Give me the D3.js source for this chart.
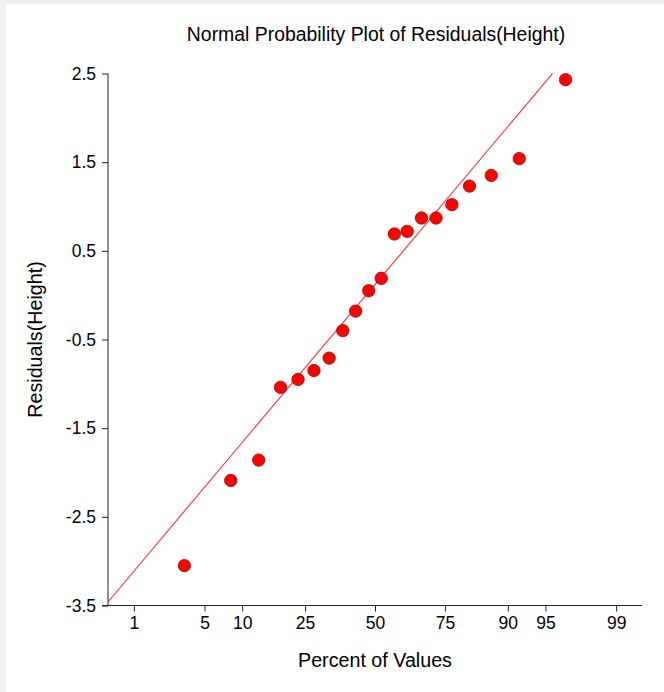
<!DOCTYPE html>
<html>
<head>
<meta charset="utf-8">
<script src="https://cdn.jsdelivr.net/npm/d3@7"></script>
<style>
  html, body { margin: 0; padding: 0; background: #f0f0f0; }
  svg { display: block; font-family: "Liberation Sans", Arial, sans-serif; }
</style>
</head>
<body>
<svg id="chart" width="664" height="692"></svg>
<script>
// values
var percents = [3.3, 8.2, 13.1, 18.1, 22.9, 27.8, 32.9, 37.8, 42.6, 47.6,
                52.4, 57.4, 62.2, 67.3, 72.2, 77.1, 81.9, 86.9, 91.8, 96.7];
var residuals = [-3.05, -2.09, -1.86, -1.04, -0.95, -0.85, -0.71, -0.40, -0.18, 0.05,
                 0.19, 0.69, 0.72, 0.87, 0.87, 1.02, 1.23, 1.35, 1.54, 2.43];
var xTicks = [1, 5, 10, 25, 50, 75, 90, 95, 99];
var yTicks = [-3.5, -2.5, -1.5, -0.5, 0.5, 1.5, 2.5];
var fitLine = { intercept: 0.12, slope: 1.39 };   // residual = intercept + slope * z

// inverse normal cdf (Acklam) so percent can go on a probability axis
function probit(p) {
  var a = [-39.69683028665376, 220.9460984245205, -275.9285104469687, 138.3577518672690, -30.66479806614716, 2.506628277459239],
      b = [-54.47609879822406, 161.5858368580409, -155.6989798598866, 66.80131188771720, -13.28068155288572],
      c = [-0.007784894002430293, -0.3223964580411365, -2.400758277161838, -2.549732539343734, 4.374664141464968, 2.938163982698783],
      d = [0.007784695709041462, 0.3224671290700398, 2.445134137142996, 3.754408661907416];
  var q, r, lo = 0.02425;
  if (p < lo) {
    q = Math.sqrt(-2 * Math.log(p));
    return (((((c[0]*q+c[1])*q+c[2])*q+c[3])*q+c[4])*q+c[5]) / ((((d[0]*q+d[1])*q+d[2])*q+d[3])*q+1);
  }
  if (p > 1 - lo) {
    q = Math.sqrt(-2 * Math.log(1 - p));
    return -(((((c[0]*q+c[1])*q+c[2])*q+c[3])*q+c[4])*q+c[5]) / ((((d[0]*q+d[1])*q+d[2])*q+d[3])*q+1);
  }
  q = p - 0.5; r = q * q;
  return (((((a[0]*r+a[1])*r+a[2])*r+a[3])*r+a[4])*r+a[5])*q / (((((b[0]*r+b[1])*r+b[2])*r+b[3])*r+b[4])*r+1);
}

function drawChart() {
  var svg = d3.select("#chart");
  svg.append("rect").attr("x", 6).attr("y", 4).attr("width", 658).attr("height", 688).attr("fill", "#fff");

  var pLeft = 108, pRight = 642, pTop = 73.5, pBottom = 605.5;

  var z = d3.scaleLinear().domain([probit(0.005), probit(0.995)]).range([pLeft, pRight]);
  var x = function(pct) { return z(probit(pct / 100)); };
  var y = d3.scaleLinear().domain([-3.5, 2.5]).range([pBottom, pTop]);

  var data = percents.map(function(p, i) { return { p: p, r: residuals[i] }; });

  // fitted line, clipped to plot area
  svg.append("clipPath").attr("id", "plotclip")
    .append("rect").attr("x", pLeft).attr("y", pTop).attr("width", pRight - pLeft).attr("height", pBottom - pTop);

  var zs = z.domain();
  svg.append("line")
      .attr("clip-path", "url(#plotclip)")
      .attr("x1", z(zs[0])).attr("y1", y(fitLine.intercept + fitLine.slope * zs[0]))
      .attr("x2", z(zs[1])).attr("y2", y(fitLine.intercept + fitLine.slope * zs[1]))
      .attr("stroke", "#ff3030").attr("stroke-width", 1.1);

  // axes
  var yAxis = svg.append("g")
      .attr("transform", "translate(" + pLeft + ",0)")
      .call(d3.axisLeft(y).tickValues(yTicks).tickFormat(function(d) { return d.toFixed(1); }).tickSize(6).tickPadding(6));
  yAxis.select(".domain").attr("d", "M0," + pTop + "V" + pBottom);

  var xAxis = svg.append("g")
      .attr("transform", "translate(0," + pBottom + ")")
      .call(d3.axisBottom(z).tickValues(xTicks.map(function(t) { return probit(t / 100); }))
        .tickFormat(function(d, i) { return xTicks[i]; }).tickSize(6).tickPadding(5));
  xAxis.select(".domain").attr("d", "M" + (pLeft - 6) + ",0H" + pRight);

  svg.selectAll(".tick text").attr("font-size", 17.5).attr("font-family", "Liberation Sans, Arial, sans-serif").attr("fill", "#000");
  svg.selectAll(".domain, .tick line").attr("stroke", "#222");

  // points
  svg.append("g").selectAll("circle")
    .data(data)
    .enter().append("circle")
      .attr("cx", function(d) { return x(d.p); })
      .attr("cy", function(d) { return y(d.r); })
      .attr("r", 6.2)
      .attr("fill", "#ff0000")
      .attr("stroke", "#a40000")
      .attr("stroke-width", 0.8);

  // titles
  svg.append("text")
      .attr("x", 376).attr("y", 41)
      .attr("text-anchor", "middle").attr("font-size", 19.4)
      .text("Normal Probability Plot of Residuals(Height)");

  svg.append("text")
      .attr("x", 375).attr("y", 667)
      .attr("text-anchor", "middle").attr("font-size", 19.7)
      .text("Percent of Values");

  svg.append("text")
      .attr("transform", "translate(42," + ((pTop + pBottom) / 2) + ")rotate(-90)")
      .attr("text-anchor", "middle").attr("font-size", 19.7)
      .text("Residuals(Height)");
}

drawChart();
</script>
</body>
</html>
